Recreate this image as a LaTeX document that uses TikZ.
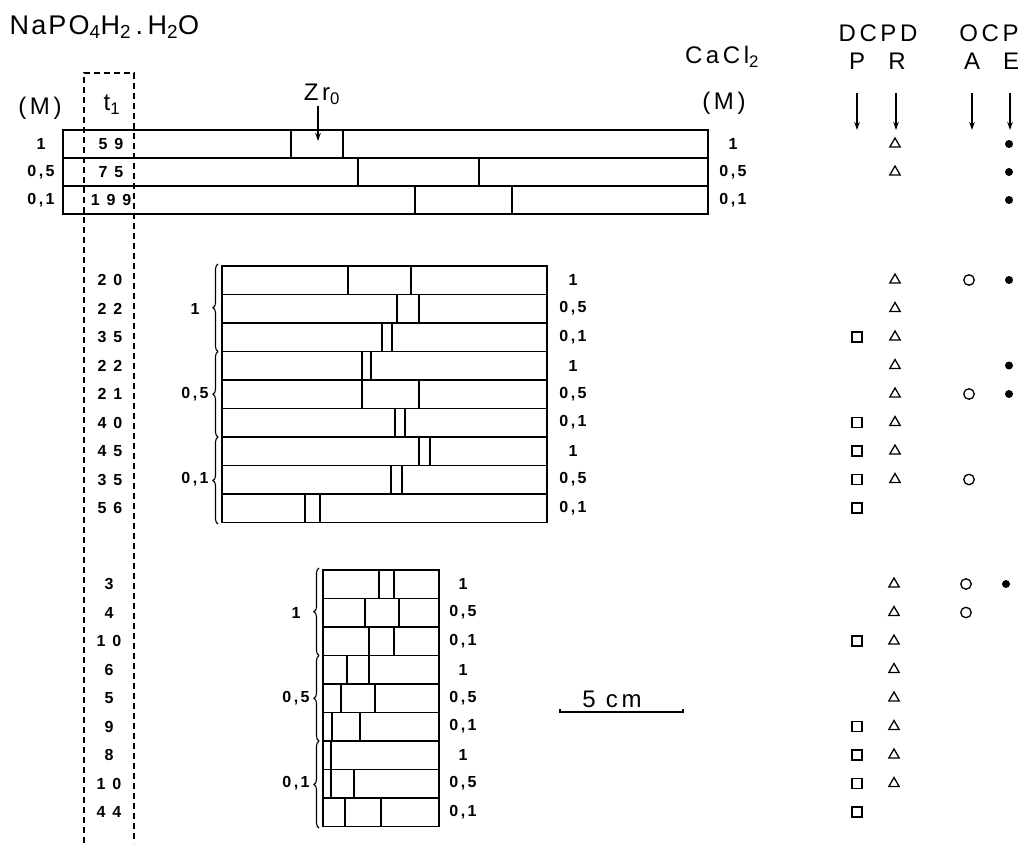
\documentclass[tikz,border=0pt]{standalone}
\usepackage{fontspec}
\setmainfont{Liberation Sans}
\newfontfamily\labf[LetterSpace=15]{Liberation Sans}
\newfontfamily\titf[LetterSpace=8]{Liberation Sans}
\newfontfamily\numf[LetterSpace=15]{Liberation Sans}
\usetikzlibrary{decorations.pathreplacing,shapes.geometric,arrows.meta}
\begin{document}
\begin{tikzpicture}[x=1pt,y=-1pt,line width=1.3pt,
  big/.style={font=\labf\fontsize{24}{28}\selectfont,inner sep=0},
  ttl/.style={font=\titf\fontsize{27}{30}\selectfont,inner sep=0},
  sm/.style={font=\numf\fontsize{16}{18}\selectfont\bfseries,inner sep=0},
  arr/.style={line width=1.3pt,-{Stealth[length=8pt,width=5.5pt]}},
  dsh/.style={line width=1.6pt,dash pattern=on 6pt off 4pt},
  brc/.style={decorate,decoration={brace,amplitude=5pt},line width=1.1pt},
  tri/.style={regular polygon,regular polygon sides=3,draw,line width=1.3pt,minimum size=12pt,inner sep=0},
  sqr/.style={rectangle,draw,line width=1.3pt,minimum size=10pt,inner sep=0},
  ocirc/.style={circle,draw,line width=1.3pt,minimum size=10.5pt,inner sep=0},
  fdot/.style={circle,fill,minimum size=8pt,inner sep=0}]
\useasboundingbox (0,0) rectangle (1022,843);
\fill[white] (0,0) rectangle (1022,843);

% headers
\node[ttl,anchor=west] (title) at (9,27) {NaPO\textsubscript{4}H\textsubscript{2}\,.\,H\textsubscript{2}O};
\node[big] (dcpd) at (878,33) {DCPD};
\node[big] (ocp) at (989,33) {OCP};
\node[big] (cacl) at (722,57) {CaCl\textsubscript{2}};
\node[big] (mr) at (724,103) {(M)};
\node[big] (ml) at (40,108) {(M)};
\node[big] (t1) at (112,105) {t\textsubscript{1}};
\node[big] (zr) at (322,94) {Zr\textsubscript{0}};
\node[big] (P) at (857,61) {P};
\node[big] (R) at (897,61) {R};
\node[big] (A) at (972,61) {A};
\node[big] (E) at (1011,61) {E};
\foreach \n/\x in {P/857,R/896,A/972,E/1010}{
  \coordinate (\n s) at (\x,93);
  \coordinate (\n e) at (\x,130);
  \draw[arr] (\n s) -- (\n e);
}
\coordinate (zs) at (318,106);
\coordinate (ze) at (318,141);
\draw[arr] (zs) -- (ze);

% dashed t1 column
\draw[dsh] (84,843) -- (84,73) -- (134,73) -- (134,843);

% top group
\foreach \r/\a/\b in {0/291/343,1/358/479,2/415/512}{
  \draw (63,130+\r*28) rectangle (708,158+\r*28);
  \draw (\a,130+\r*28) -- ++(0,28) (\b,130+\r*28) -- ++(0,28);
}
\foreach \i/\l/\t in {1/1/5 9,2/{0,5}/7 5,3/{0,1}/1 9 9}{
  \node[sm] (tl\i) at (41,116+\i*28) {\l};
  \node[sm] (tr\i) at (733,116+\i*28) {\l};
  \node[sm] (tt\i) at (111,116+\i*28) {\t};
}

% middle group
\foreach \r/\a/\b in {0/348/411,1/397/419,2/382/392,3/362/371,4/362/419,5/395/405,6/419/430,7/391/402,8/305/320}{
  \draw (222,266+\r*28.5) rectangle (547,294.5+\r*28.5);
  \draw (\a,266+\r*28.5) -- ++(0,28.5) (\b,266+\r*28.5) -- ++(0,28.5);
}
\foreach \i/\l/\t in {1/1/2 0,2/{0,5}/2 2,3/{0,1}/3 5,4/1/2 2,5/{0,5}/2 1,6/{0,1}/4 0,7/1/4 5,8/{0,5}/3 5,9/{0,1}/5 6}{
  \node[sm] (mr\i) at (573,251.5+\i*28.5) {\l};
  \node[sm] (mt\i) at (110,251.5+\i*28.5) {\t};
}
\draw[brc] (218,351.5) -- (218,264);
\draw[brc] (218,437) -- (218,351.5);
\draw[brc] (218,524) -- (218,437);
\node[sm] (mg1) at (195,308.5) {1};
\node[sm] (mg2) at (195,394) {0,5};
\node[sm] (mg3) at (195,479.5) {0,1};

% bottom group
\foreach \r/\a/\b in {0/379/394,1/365/399,2/369/394,3/347/369,4/341/375,5/332/360,6/331/331,7/331/354,8/345/381}{
  \draw (323,570+\r*28.5) rectangle (439,598.5+\r*28.5);
  \draw (\a,570+\r*28.5) -- ++(0,28.5) (\b,570+\r*28.5) -- ++(0,28.5);
}
\foreach \i/\l/\t in {1/1/3,2/{0,5}/4,3/{0,1}/1 0,4/1/6,5/{0,5}/5,6/{0,1}/9,7/1/8,8/{0,5}/1 0,9/{0,1}/4 4}{
  \node[sm] (br\i) at (463,555.5+\i*28.5) {\l};
  \node[sm] (bt\i) at (109,555.5+\i*28.5) {\t};
}
\draw[brc] (319,655.5) -- (319,568);
\draw[brc] (319,741) -- (319,655.5);
\draw[brc] (319,828) -- (319,741);
\node[sm] (bg1) at (296,612.5) {1};
\node[sm] (bg2) at (296,698) {0,5};
\node[sm] (bg3) at (296,783.5) {0,1};

% scale bar
\node[big] (scl) at (612,699) {5 cm};
\coordinate (s1) at (560,712);
\coordinate (s2) at (683,712);
\draw[line width=1.3pt] ([yshift=3pt]s1) -- (s1) -- (s2) -- ([yshift=3pt]s2);

% symbols top group
\node[tri] (tR1) at (895,144) {};
\node[tri] (tR2) at (895,172) {};
\foreach \i in {1,2,3}{\node[fdot] (tE\i) at (1009,116+\i*28) {};}
% middle group
\foreach \i in {1,...,8}{\node[tri] (mR\i) at (895,251.5+\i*28.5) {};}
\foreach \i in {3,6,7,8,9}{\node[sqr] (mP\i) at (857,251.5+\i*28.5) {};}
\foreach \i in {1,5,8}{\node[ocirc] (mA\i) at (969,251.5+\i*28.5) {};}
\foreach \i in {1,4,5}{\node[fdot] (mE\i) at (1009,251.5+\i*28.5) {};}
% bottom group
\foreach \i in {1,...,8}{\node[tri] (bR\i) at (894,555.5+\i*28.5) {};}
\foreach \i in {3,6,7,8,9}{\node[sqr] (bP\i) at (857,555.5+\i*28.5) {};}
\foreach \i in {1,2}{\node[ocirc] (bA\i) at (966,555.5+\i*28.5) {};}
\node[fdot] (bE1) at (1006,584) {};
\end{tikzpicture}
\end{document}
